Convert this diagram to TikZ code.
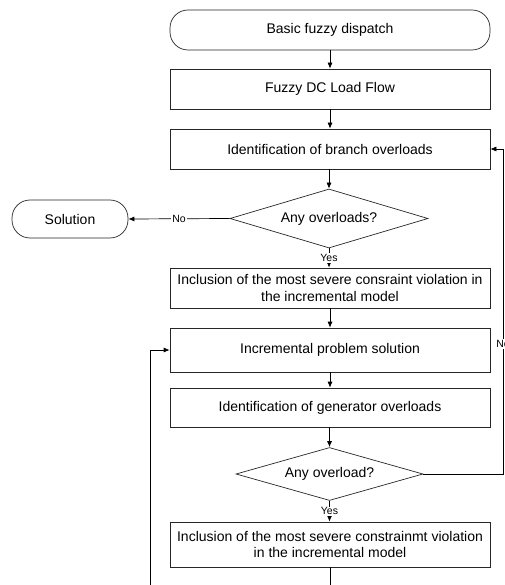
\documentclass[tikz,border=0pt]{standalone}
\usepackage{fontspec}
\setmainfont{Liberation Sans}
\usetikzlibrary{shapes.geometric,arrows.meta}
\begin{document}
\begin{tikzpicture}[x=1pt,y=-1pt,
  box/.style={draw=black!85,line width=0.7pt,minimum width=320pt,inner sep=0pt,
    align=center,font=\fontsize{14}{16.5}\selectfont},
  term/.style={box,rounded corners=18pt},
  decide/.style={draw=black!85,line width=0.7pt,diamond,inner sep=0pt,
    font=\fontsize{14}{16.5}\selectfont},
  flow/.style={draw=black,line width=0.7pt,-{Latex[length=6pt,width=5pt]}},
  tag/.style={fill=white,inner sep=1pt,font=\fontsize{10.5}{12}\selectfont}]
\useasboundingbox (0,0) rectangle (504,585);
\clip (0,0) rectangle (504,585);

% process chain
\node[term,minimum height=40pt] (start) at (330,30) {Basic fuzzy dispatch};
\node[box,minimum height=40pt] (dcflow) at (330,89) {Fuzzy DC Load Flow};
\node[box,minimum height=40pt] (branch) at (330,149) {Identification of branch overloads};
\node[decide,aspect=3.36,minimum width=198pt,minimum height=59pt] (anyb) at (329,218.5) {Any overloads?};
\node[term,minimum width=116pt,minimum height=38pt] (sol) at (70,219) {Solution};
\node[box,minimum height=40pt] (incl1) at (330,288)
  {Inclusion of the most severe consraint violation in\\the incremental model};
\node[box,minimum height=44pt] (incr) at (330,350) {Incremental problem solution};
\node[box,minimum height=39pt] (gen) at (330,407.5) {Identification of generator overloads};
\node[decide,aspect=3.53,minimum width=187pt,minimum height=53pt] (anyg) at (329.5,474) {Any overload?};
\node[box,minimum height=45pt] (incl2) at (330,544.5)
  {Inclusion of the most severe constrainmt violation\\in the incremental model};

% routing helpers for the feedback loops
\coordinate (rx) at (503,0);
\coordinate (lx) at (150,0);
\coordinate (low) at (0,600);

% straight connectors
\draw[flow] (start) -- (dcflow);
\draw[flow] (dcflow) -- (branch);
\draw[flow] (branch.south -| anyb.north) -- (anyb.north);
\draw[flow] (anyb.west) -- node[tag]{No} (sol.east);
\draw[flow] (anyb.south) -- node[tag]{Yes} (anyb.south |- incl1.north);
\draw[flow] (incl1) -- (incr);
\draw[flow] (incr) -- (gen);
\draw[flow] (gen.south -| anyg.north) -- (anyg.north);
\draw[flow] (anyg.south) -- node[tag]{Yes} (anyg.south |- incl2.north);

% loop back to branch overload check
\draw[flow] (anyg.east) -- (anyg.east -| rx)
  -- node[tag,pos=0.4]{No} (rx |- branch.east) -- (branch.east);

% loop back to incremental solution
\draw[flow] (incl2.south) -- (incl2.south |- low) -| (lx |- incr.west) -- (incr.west);
\end{tikzpicture}
\end{document}
